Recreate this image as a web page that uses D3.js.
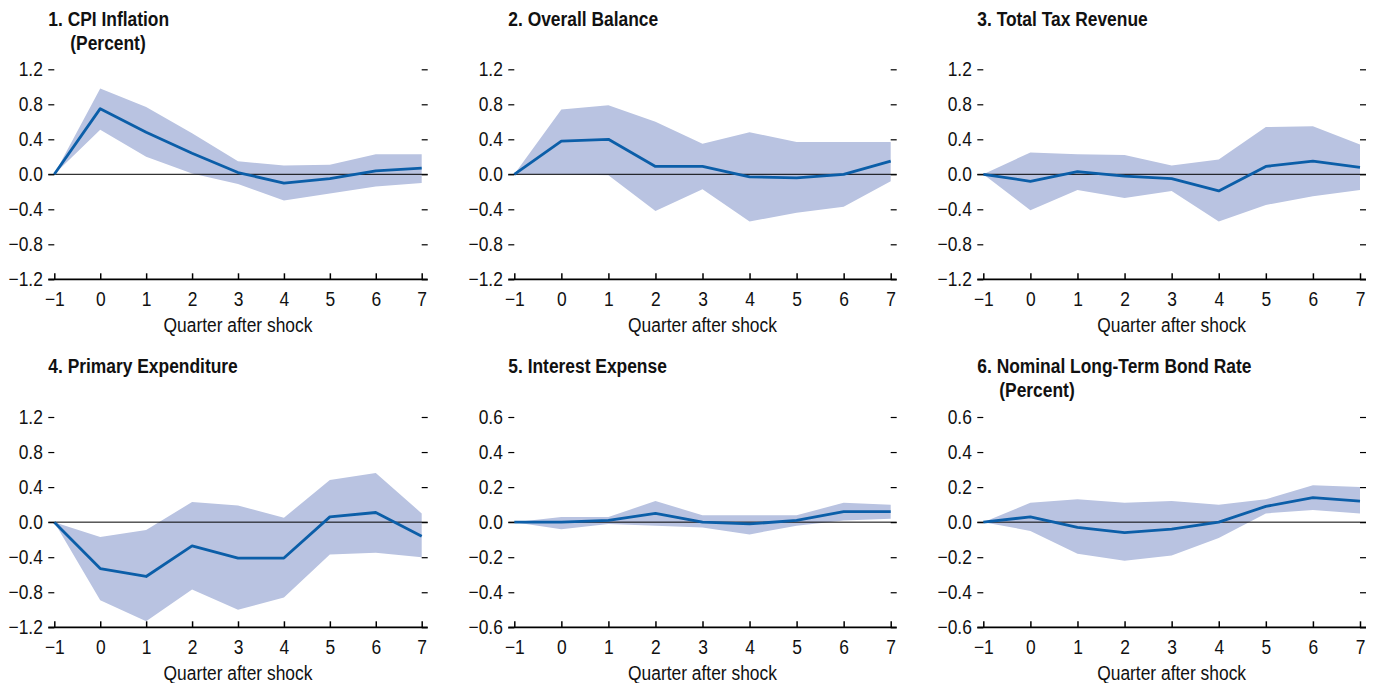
<!DOCTYPE html>
<html>
<head>
<meta charset="utf-8">
<script src="https://cdn.jsdelivr.net/npm/d3@7"></script>
<style>
  body { margin: 0; background: #fff; }
  svg { display: block; }
  text { font-family: "Liberation Sans", Arial, sans-serif; fill: #111; }
  .title { font-weight: bold; font-size: 20px; }
  .tick text { font-size: 20px; }
  .xlabel { font-size: 20px; }
</style>
</head>
<body>
<div id="chart"></div>
<script>
var quarters = [-1, 0, 1, 2, 3, 4, 5, 6, 7];

var titles = [
    ['1. CPI Inflation', '(Percent)'],
    ['2. Overall Balance'],
    ['3. Total Tax Revenue'],
    ['4. Primary Expenditure'],
    ['5. Interest Expense'],
    ['6. Nominal Long-Term Bond Rate', '(Percent)']
];

var yTicksWide = [1.2, 0.8, 0.4, 0.0, -0.4, -0.8, -1.2];
var yTicksNarrow = [0.6, 0.4, 0.2, 0.0, -0.2, -0.4, -0.6];

// point estimate
var cpiLine     = [0, 0.75, 0.48, 0.24, 0.02, -0.10, -0.05, 0.04, 0.07];
var balanceLine = [0, 0.38, 0.40, 0.09, 0.09, -0.03, -0.04, 0.00, 0.15];
var taxLine     = [0, -0.08, 0.03, -0.02, -0.05, -0.19, 0.09, 0.15, 0.08];
var primLine    = [0, -0.53, -0.62, -0.27, -0.41, -0.41, 0.06, 0.11, -0.16];
var interLine   = [0, 0.00, 0.01, 0.05, 0.00, -0.01, 0.01, 0.06, 0.06];
var bondLine    = [0, 0.03, -0.03, -0.06, -0.04, 0.00, 0.09, 0.14, 0.12];

// confidence band, upper
var cpiUpper     = [0, 0.98, 0.77, 0.47, 0.15, 0.10, 0.11, 0.23, 0.23];
var balanceUpper = [0, 0.74, 0.79, 0.60, 0.35, 0.48, 0.37, 0.37, 0.37];
var taxUpper     = [0, 0.25, 0.23, 0.22, 0.10, 0.17, 0.54, 0.55, 0.34];
var primUpper    = [0, -0.17, -0.09, 0.23, 0.19, 0.05, 0.48, 0.56, 0.10];
var interUpper   = [0, 0.03, 0.03, 0.12, 0.04, 0.04, 0.04, 0.11, 0.10];
var bondUpper    = [0, 0.11, 0.13, 0.11, 0.12, 0.10, 0.13, 0.21, 0.20];

// confidence band, lower
var cpiLower     = [0, 0.51, 0.20, 0.01, -0.11, -0.30, -0.22, -0.14, -0.10];
var balanceLower = [0, 0.00, -0.01, -0.42, -0.17, -0.54, -0.44, -0.37, -0.08];
var taxLower     = [0, -0.41, -0.18, -0.27, -0.19, -0.54, -0.35, -0.25, -0.18];
var primLower    = [0, -0.89, -1.13, -0.77, -1.00, -0.86, -0.37, -0.35, -0.40];
var interLower   = [0, -0.04, -0.01, -0.02, -0.03, -0.07, -0.02, 0.01, 0.02];
var bondLower    = [0, -0.05, -0.18, -0.22, -0.19, -0.09, 0.05, 0.07, 0.05];

var panels = [
    {line: cpiLine, upper: cpiUpper, lower: cpiLower, ticks: yTicksWide},
    {line: balanceLine, upper: balanceUpper, lower: balanceLower, ticks: yTicksWide},
    {line: taxLine, upper: taxUpper, lower: taxLower, ticks: yTicksWide},
    {line: primLine, upper: primUpper, lower: primLower, ticks: yTicksWide},
    {line: interLine, upper: interUpper, lower: interLower, ticks: yTicksNarrow},
    {line: bondLine, upper: bondUpper, lower: bondLower, ticks: yTicksNarrow}
];

var cols = [[54.3, 421.7], [514.3, 890.7], [983.3, 1360]];
var rows = [[69.3, 279.3], [417, 627.3]];
var titleY = [26, 373];
var tickLen = 6;
var squeeze = 0.87;   // fake a condensed face

var lineColor = '#0b5ea8',
    bandColor = '#b9c3e1';

// squash text horizontally, keeping its anchor where it was
function narrow(sel) {
    sel.each(function() {
        var el = d3.select(this);
        var xv = +el.attr('x') || 0;
        el.attr('x', xv / squeeze)
          .attr('transform', 'scale(' + squeeze + ',1)');
    });
}

var svg = d3.select('#chart').append('svg')
    .attr('width', 1377)
    .attr('height', 683);

panels.forEach(function(p, i) {
    var c = cols[i % 3], r = rows[Math.floor(i / 3)];
    var yMax = d3.max(p.ticks);

    var x = d3.scaleLinear().domain([-1, 7]).range(c);
    var y = d3.scaleLinear().domain([-yMax, yMax]).range([r[1], r[0]]);

    var g = svg.append('g');
    var data = quarters.map(function(q, j) {
        return {q: q, v: p.line[j], hi: p.upper[j], lo: p.lower[j]};
    });

    g.append('path')
        .datum(data)
        .attr('fill', bandColor)
        .attr('d', d3.area()
            .x(function(d) { return x(d.q); })
            .y0(function(d) { return y(d.lo); })
            .y1(function(d) { return y(d.hi); }));

    // zero line
    g.append('line')
        .attr('x1', c[0] - tickLen).attr('x2', c[1] + tickLen)
        .attr('y1', y(0)).attr('y2', y(0))
        .attr('stroke', '#000').attr('stroke-width', 1);

    g.append('path')
        .datum(data)
        .attr('fill', 'none')
        .attr('stroke', lineColor)
        .attr('stroke-width', 2.8)
        .attr('stroke-linejoin', 'round')
        .attr('d', d3.line()
            .x(function(d) { return x(d.q); })
            .y(function(d) { return y(d.v); }));

    var left = g.append('g')
        .attr('transform', 'translate(' + c[0] + ',0)')
        .call(d3.axisLeft(y).tickValues(p.ticks).tickSize(tickLen).tickPadding(5.5)
            .tickFormat(d3.format('.1f')));
    left.select('.domain').remove();

    var right = g.append('g')
        .attr('transform', 'translate(' + c[1] + ',0)')
        .call(d3.axisRight(y).tickValues(p.ticks).tickSize(tickLen).tickFormat(''));
    right.select('.domain').remove();

    var bottom = g.append('g')
        .attr('transform', 'translate(0,' + r[1] + ')')
        .call(d3.axisBottom(x).tickValues(quarters).tickSize(-tickLen).tickPadding(12.5)
            .tickFormat(d3.format('d')));
    bottom.select('.domain').remove();
    bottom.selectAll('.tick line').attr('stroke-width', 1.5);
    bottom.append('line')
        .attr('x1', c[0] - tickLen).attr('x2', c[1] + tickLen)
        .attr('stroke', '#000').attr('stroke-width', 1.8);

    g.selectAll('.tick text').attr('fill', '#111').call(narrow);
    g.selectAll('.tick line').attr('stroke', '#000');
    left.selectAll('.tick line').attr('stroke-width', 1.2);
    right.selectAll('.tick line').attr('stroke-width', 1.2);

    g.append('text')
        .attr('class', 'xlabel')
        .attr('x', (c[0] + c[1]) / 2)
        .attr('y', r[1] + 52.4)
        .attr('text-anchor', 'middle')
        .text('Quarter after shock')
        .call(narrow);

    var t = g.append('text')
        .attr('class', 'title')
        .attr('y', titleY[Math.floor(i / 3)])
        .attr('transform', 'scale(' + squeeze + ',1)');
    titles[i].forEach(function(s, k) {
        t.append('tspan')
            .attr('x', (c[0] - tickLen + (k ? 22 : 0)) / squeeze)
            .attr('dy', k ? 24 : 0)
            .text(s);
    });
});
</script>
</body>
</html>
